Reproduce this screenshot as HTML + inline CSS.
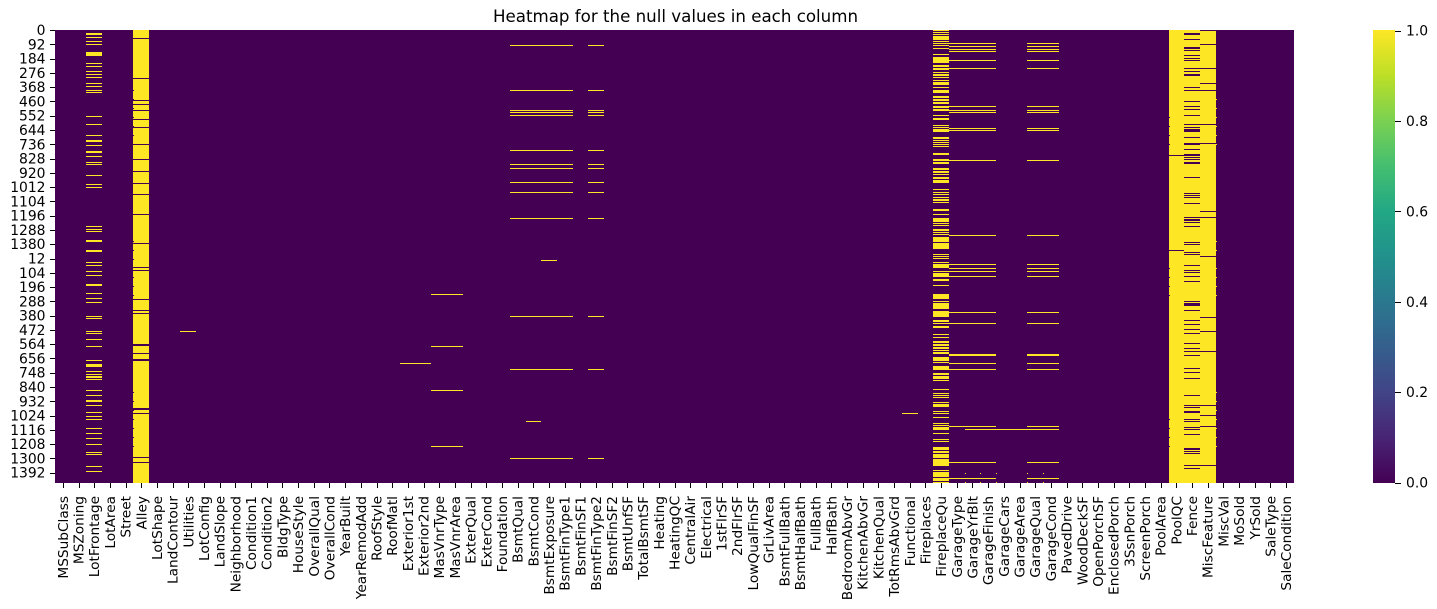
<!DOCTYPE html>
<html lang="en">
<head>
<meta charset="utf-8">
<title>Heatmap for the null values in each column</title>
<style>
  html, body { margin: 0; padding: 0; background: #fff; }
  svg { display: block; }
  text { font-family: "DejaVu Sans", "Liberation Sans", sans-serif; fill: #000; }
</style>
</head>
<body>
<svg id="chart" width="1437" height="609" viewBox="0 0 1437 609" xmlns="http://www.w3.org/2000/svg">
  <defs>
    <linearGradient id="viridis" x1="0" y1="1" x2="0" y2="0">
      <stop offset="0" stop-color="#440154"/>
      <stop offset="0.1" stop-color="#482475"/>
      <stop offset="0.2" stop-color="#414487"/>
      <stop offset="0.3" stop-color="#355f8d"/>
      <stop offset="0.4" stop-color="#2a788e"/>
      <stop offset="0.5" stop-color="#21918c"/>
      <stop offset="0.6" stop-color="#22a884"/>
      <stop offset="0.7" stop-color="#44bf70"/>
      <stop offset="0.8" stop-color="#7ad151"/>
      <stop offset="0.9" stop-color="#bddf26"/>
      <stop offset="1" stop-color="#fde725"/>
    </linearGradient>
  </defs>
  <text x="675.5" y="22" text-anchor="middle" font-size="16.67">Heatmap for the null values in each column</text>
  <g id="cells" shape-rendering="crispEdges"></g>
  <g id="x-axis"></g>
  <g id="y-axis"></g>
  <rect id="colorbar" x="1373" y="30" width="22" height="453" fill="url(#viridis)"/>
  <g id="colorbar-axis"></g>
</svg>
<script>
// ---------- categories and tick labels ----------
const columns = ["MSSubClass","MSZoning","LotFrontage","LotArea","Street","Alley","LotShape","LandContour","Utilities","LotConfig","LandSlope","Neighborhood","Condition1","Condition2","BldgType","HouseStyle","OverallQual","OverallCond","YearBuilt","YearRemodAdd","RoofStyle","RoofMatl","Exterior1st","Exterior2nd","MasVnrType","MasVnrArea","ExterQual","ExterCond","Foundation","BsmtQual","BsmtCond","BsmtExposure","BsmtFinType1","BsmtFinSF1","BsmtFinType2","BsmtFinSF2","BsmtUnfSF","TotalBsmtSF","Heating","HeatingQC","CentralAir","Electrical","1stFlrSF","2ndFlrSF","LowQualFinSF","GrLivArea","BsmtFullBath","BsmtHalfBath","FullBath","HalfBath","BedroomAbvGr","KitchenAbvGr","KitchenQual","TotRmsAbvGrd","Functional","Fireplaces","FireplaceQu","GarageType","GarageYrBlt","GarageFinish","GarageCars","GarageArea","GarageQual","GarageCond","PavedDrive","WoodDeckSF","OpenPorchSF","EnclosedPorch","3SsnPorch","ScreenPorch","PoolArea","PoolQC","Fence","MiscFeature","MiscVal","MoSold","YrSold","SaleType","SaleCondition"];
const rowCount = 2919;
const rowTickStep = 92;
const rowTickLabels = ["0","92","184","276","368","460","552","644","736","828","920","1012","1104","1196","1288","1380","12","104","196","288","380","472","564","656","748","840","932","1024","1116","1208","1300","1392"];
const colorbarTicks = [0, 0.2, 0.4, 0.6, 0.8, 1];

// ---------- heatmap values: a number is one row, [start, length] is a run of rows ----------
// Columns that are mostly present: these rows are null (value 1)
const lotFrontageNullRows = [[20,13],46,71,91,[142,26],213,232,265,284,303,342,361,387,400,555,606,677,[709,13],741,[780,13],812,851,864,935,993,1012,1263,1283,1296,[1353,13],[1418,13],1495,1515,1553,1579,[1635,13],1695,1727,1753,1843,1856,1940,1953,1992,2037,2127,[2153,19],2198,2217,[2230,13],2249,2320,2353,[2385,13],2417,2462,2488,2507,2565,2597,2630,2668,2720,2733,2810,2842];
const utilitiesNullRows = [1940];
const exteriorNullRows = [2146];
const masVnrNullRows = [1702,2037,2320,2681];
const basementNullRows = [97,387,516,529,548,774,864,890,980,1044,1212,1843,2185,2759];
const bsmtCondExtraNullRows = [2520];
const bsmtExposureExtraNullRows = [1483];
const functionalNullRows = [2468];
const fireplaceQuNullRows = [0,11,24,[39,26],71,84,[99,6],116,155,174,[183,32],[228,13],[247,13],271,[286,11],303,323,[337,17],368,[389,17],[428,9],[445,13],[466,9],[492,13],[511,13],548,[569,11],613,625,[638,19],[692,13],709,722,735,748,[795,9],[832,13],[853,11],[892,11],[911,11],928,[950,11],[969,17],1025,1044,1057,1077,[1089,13],1109,[1156,11],1186,[1214,26],1244,1257,[1285,11],1302,1315,[1336,30],[1375,37],1444,1457,1470,1495,[1510,26],1553,[1568,26],[1607,11],1644,[1704,32],1747,[1762,39],[1811,39],[1871,11],1889,[1910,9],1959,1979,[2007,11],[2026,11],[2045,9],[2065,6],[2077,13],[2110,26],2140,[2168,26],[2213,11],[2232,19],2256,2314,2340,2353,2365,[2400,6],[2413,17],2456,2469,2494,2533,2546,[2561,17],2597,2636,2649,[2690,17],[2715,11],[2735,26],[2767,43],[2838,6],[2851,32],[2889,17],[2915,4]];
const garageNullRows = [84,103,123,136,194,245,490,516,529,632,645,838,1321,1508,1534,1553,1586,1818,1889,[2086,13],2146,2185,2552,2784,2887];
const garageSpanNullRows = [2572];
const garageSliverRows = [2855,2913];
// Columns that are mostly null: these rows are present (value 0)
const alleyPresentRows = [52,310,451,477,516,574,625,735,832,909,986,1057,1186,1373,1528,1547,1734,1805,1824,[2024,13],2082,[2120,11],[2436,13],2469,2752,2784];
const alleySliverRows = [387,443,503,561,619,677,1360,1418,1476,1592,1650,1708,2333,2391,2449,2507,2565,2623,2681];
const poolQcPresentRows = [806,1418];
const poolQcSliverRows = [561,619,677,735,1534,1592,1650,1708,2507,2565,2623,2681];
const fencePresentRows = [[20,13],58,[110,15],129,161,181,194,245,265,[284,13],368,387,458,490,509,548,606,625,[638,19],690,[728,13],767,[799,13],819,832,[851,11],948,1051,1064,1077,1115,1205,[1218,13],1238,1263,1366,1379,1431,1444,1515,1547,1560,1586,1618,[1747,6],[1762,17],1805,1869,1895,1927,1953,2017,2050,2069,2095,2179,2204,2243,2353,2417,2430,[2458,13],2507,2520,2559,2572,2604,[2696,13],2713,2726,2804,2823];
const miscFeaturePresentRows = [0,91,245,342,387,606,729,1167,1205,1457,1850,1940,2069,2417,2481,2552,2804];
const miscFeatureSliverRows = [445,503,561,619,677,735,1360,1418,1534,1592,1650,1708,2333,2391,2449,2507,2565,2623,2681];

const sparseColumns = [
  ["LotFrontage", lotFrontageNullRows],
  ["Utilities", utilitiesNullRows],
  ["Exterior1st", exteriorNullRows],
  ["Exterior2nd", exteriorNullRows],
  ["MasVnrType", masVnrNullRows],
  ["MasVnrArea", masVnrNullRows],
  ["BsmtQual", basementNullRows],
  ["BsmtCond", basementNullRows],
  ["BsmtCond", bsmtCondExtraNullRows],
  ["BsmtExposure", basementNullRows],
  ["BsmtExposure", bsmtExposureExtraNullRows],
  ["BsmtFinType1", basementNullRows],
  ["BsmtFinType2", basementNullRows],
  ["Functional", functionalNullRows],
  ["FireplaceQu", fireplaceQuNullRows],
  ["GarageType", garageNullRows],
  ["GarageYrBlt", garageNullRows],
  ["GarageFinish", garageNullRows],
  ["GarageQual", garageNullRows],
  ["GarageCond", garageNullRows],
  ["GarageYrBlt", garageSpanNullRows],
  ["GarageFinish", garageSpanNullRows],
  ["GarageCars", garageSpanNullRows],
  ["GarageArea", garageSpanNullRows],
  ["GarageQual", garageSpanNullRows],
  ["GarageCond", garageSpanNullRows]
];
const denseColumns = [
  ["Alley", alleyPresentRows],
  ["PoolQC", poolQcPresentRows],
  ["Fence", fencePresentRows],
  ["MiscFeature", miscFeaturePresentRows]
];
// One-pixel slivers at column edges: column whose left edge holds the sliver, rows, value
const edgeSlivers = [
  ["Alley", alleySliverRows, 0],
  ["PoolQC", poolQcSliverRows, 0],
  ["MiscVal", miscFeatureSliverRows, 1],
  ["GarageYrBlt", garageSliverRows, 1],
  ["GarageFinish", garageSliverRows, 1],
  ["GarageCars", garageSliverRows, 1],
  ["GarageQual", garageSliverRows, 1],
  ["GarageCond", garageSliverRows, 1]
];

// ---------- axis functions ----------
const plotLeft = 55, plotRight = 1294, plotTop = 30, plotBottom = 483;
const colorLow = "#440154", colorHigh = "#fde725";
const NS = "http://www.w3.org/2000/svg";

function xScale(col) { return plotLeft + col * (plotRight - plotLeft) / columns.length; }
function yScale(row) { return plotTop + row * (plotBottom - plotTop) / rowCount; }
function colorbarScale(v) { return 482.6 - v * 452; }
function colorOf(v) { return v ? colorHigh : colorLow; }

function make(tag, attrs, parent) {
  const el = document.createElementNS(NS, tag);
  for (const k in attrs) el.setAttribute(k, attrs[k]);
  parent.appendChild(el);
  return el;
}

const cellsGroup = document.getElementById("cells");
const xAxisGroup = document.getElementById("x-axis");
const yAxisGroup = document.getElementById("y-axis");
const colorbarAxisGroup = document.getElementById("colorbar-axis");

function drawCell(columnName, start, length, value) {
  const col = columns.indexOf(columnName);
  const x0 = Math.round(xScale(col));
  const x1 = Math.round(xScale(col + 1));
  const y0 = Math.round(yScale(start));
  const y1 = Math.round(yScale(start + length));
  const cell = make("rect", { x: x0, y: y0, width: x1 - x0, height: Math.max(1, y1 - y0), fill: colorOf(value) }, cellsGroup);
  
  
}

function drawRuns(columnName, runs, value) {
  runs.forEach(function (run) {
    const start = Array.isArray(run) ? run[0] : run;
    const length = Array.isArray(run) ? run[1] : 1;
    drawCell(columnName, start, length, value);
  });
}

function drawSliver(columnName, row, value) {
  const x0 = Math.round(xScale(columns.indexOf(columnName)));
  const sliver = make("rect", { x: x0, y: Math.round(yScale(row)), width: 1, height: 1, fill: colorOf(value) }, cellsGroup);
  
  
}

// Background: every value is 0 unless listed
const heatmapBackground = make("rect", { x: plotLeft, y: plotTop, width: plotRight - plotLeft, height: plotBottom - plotTop, fill: colorLow }, cellsGroup);



sparseColumns.forEach(function (entry) { drawRuns(entry[0], entry[1], 1); });
denseColumns.forEach(function (entry) {
  drawCell(entry[0], 0, rowCount, 1);
  drawRuns(entry[0], entry[1], 0);
});
edgeSlivers.forEach(function (entry) {
  entry[1].forEach(function (row) { drawSliver(entry[0], row, entry[2]); });
});

// X axis
columns.forEach(function (name, i) {
  const x = Math.round(xScale(i + 0.5));
  const tick = make("rect", { x: x, y: plotBottom, width: 1, height: 5, fill: "#000" }, xAxisGroup);
  
  
  const label = make("text", { x: 0, y: 0, "font-size": "13.7", "text-anchor": "end", transform: "translate(" + (xScale(i + 0.5) + 5) + ",496) rotate(-90)" }, xAxisGroup);
  label.textContent = name;
  
  
});

// Y axis
rowTickLabels.forEach(function (name, i) {
  const y = yScale(i * rowTickStep + 0.5);
  const tick = make("rect", { x: 50, y: Math.round(y), width: 5, height: 1, fill: "#000" }, yAxisGroup);
  
  
  const label = make("text", { x: 45.5, y: y + 5, "font-size": "13.89", "text-anchor": "end" }, yAxisGroup);
  label.textContent = name;
  
  
});

// Colorbar axis
colorbarTicks.forEach(function (v) {
  const y = colorbarScale(v);
  const tick = make("rect", { x: 1395, y: Math.round(y), width: 6, height: 1, fill: "#000" }, colorbarAxisGroup);
  
  
  const label = make("text", { x: 1406, y: y + 5, "font-size": "13.89" }, colorbarAxisGroup);
  label.textContent = v.toFixed(1);
  
  
});
</script>
</body>
</html>
